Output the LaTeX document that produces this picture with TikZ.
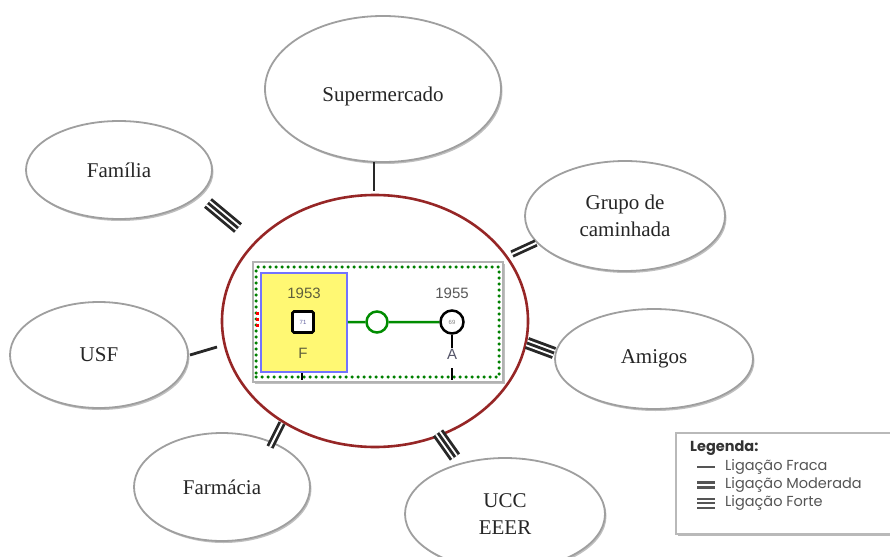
\documentclass[tikz,border=0pt]{standalone}
\usepackage{fontspec}
\setmainfont{Liberation Serif}
\newfontfamily\legfont{Poppins}
\newfontfamily\genfont{Liberation Sans}
\usepackage{tikz}
\usetikzlibrary{shapes.geometric}
\usetikzlibrary{shadows}
\definecolor{ligcolor}{RGB}{40,40,40}
\definecolor{gencolor}{RGB}{95,95,60}
\definecolor{legcolor}{RGB}{85,85,85}
\definecolor{hubcolor}{RGB}{150,38,38}
\definecolor{sexocolor}{RGB}{85,85,105}
\tikzstyle{place}=[ellipse, draw=gray!75, line width=1.8pt, fill=white, inner sep=0, align=center,
                   font=\fontsize{21}{27}\selectfont, text=black!85,
                   drop shadow={shadow xshift=1.5pt, shadow yshift=-2pt, opacity=0.5}]
\tikzstyle{hub}=[ellipse, draw=hubcolor, line width=2.6pt, fill=white, inner sep=0]
\tikzstyle{fraca}=[draw=ligcolor, line width=2.8pt]
\tikzstyle{moderada}=[draw=ligcolor, line width=7.6pt, postaction={draw=white, line width=2pt}]
\tikzstyle{forte}=[draw=ligcolor, line width=12.4pt, postaction={draw=white, line width=6.6pt},
                   postaction={draw=ligcolor, line width=2.8pt}]
\tikzstyle{gentext}=[inner sep=0, font=\genfont\fontsize{15}{15}\selectfont]
\tikzstyle{legtext}=[anchor=west, inner sep=0, font=\legfont\fontsize{14.5}{16}\selectfont, text=legcolor]

\begin{document}
\begin{tikzpicture}[x=1pt, y=-1pt]
    \useasboundingbox (0,0) rectangle (890,556);
    % ecomapa
    \node[hub, minimum width=306pt, minimum height=252pt] (ego) at (375,321) {};
    \node[place, minimum width=236pt, minimum height=146pt, text height=30pt, text depth=4.5pt] (super) at (383,89) {Supermercado};
    \node[place, minimum width=186pt, minimum height=98pt] (familia) at (119,170) {Família};
    \node[place, minimum width=200pt, minimum height=110pt] (grupo) at (625,216) {Grupo de\\caminhada};
    \node[place, minimum width=198pt, minimum height=100pt] (amigos) at (654,359) {Amigos};
    \node[place, minimum width=178pt, minimum height=106pt] (usf) at (99,355) {USF};
    \node[place, minimum width=176pt, minimum height=108pt] (farmacia) at (222,487) {Farmácia};
    \node[place, minimum width=200pt, minimum height=112pt] (ucc) at (505,514) {UCC\\EEER};
    % pontas das ligacoes
    \coordinate (super a) at (374,162);
    \coordinate (super b) at (374,191);
    \coordinate (familia a) at (208,203);
    \coordinate (familia b) at (238,228);
    \coordinate (grupo a) at (512,254);
    \coordinate (grupo b) at (536,243);
    \coordinate (amigos a) at (527,343);
    \coordinate (amigos b) at (554,353);
    \coordinate (usf a) at (190,355);
    \coordinate (usf b) at (217,347);
    \coordinate (farmacia a) at (282,423);
    \coordinate (farmacia b) at (270,447);
    \coordinate (ucc a) at (438,433);
    \coordinate (ucc b) at (455,457);
    \draw[fraca] (super a) -- (super b);
    \draw[forte] (familia a) -- (familia b);
    \draw[moderada] (grupo a) -- (grupo b);
    \draw[forte] (amigos a) -- (amigos b);
    \draw[fraca] (usf a) -- (usf b);
    \draw[moderada] (farmacia a) -- (farmacia b);
    \draw[forte] (ucc a) -- (ucc b);
    % genograma
    \node[draw=gray!60, line width=2.2pt, fill=white, inner sep=0, minimum width=250pt, minimum height=120pt,
          drop shadow={shadow xshift=1.5pt, shadow yshift=-1.5pt, opacity=0.5}] (quadro) at (378,322) {};
    \node[draw=green!50!black, line width=3.5pt, line cap=round, dash pattern=on 0pt off 6pt,
          inner sep=0, minimum width=243pt, minimum height=110pt] (pontos) at (377.5,322) {};
    \draw[red, line width=2.4pt, dash pattern=on 3pt off 3pt] (257.5,312) -- (257.5,328);
    \node[draw=blue!55, fill=yellow!55, line width=1.8pt, inner sep=0, minimum width=86pt, minimum height=99pt] (pai) at (304,322.5) {};
    \node[draw, line width=2.6pt, rounded corners=1.5pt, fill=white, inner sep=0, minimum size=21pt,
          font=\genfont\fontsize{6}{6}\selectfont, text=blue!25!gray] (idade) at (303,322) {71};
    \node[gentext, text=gencolor] (ano1) at (304,293) {1953};
    \node[gentext, text=gencolor] (sexo1) at (303,353) {F};
    \node[circle, draw=green!55!black, line width=2.5pt, fill=white, inner sep=0, minimum size=21pt] (gest) at (377,322) {};
    \node[circle, draw, line width=2.5pt, fill=white, inner sep=0, minimum size=23pt,
          font=\genfont\fontsize{6}{6}\selectfont, text=gray] (filho) at (452,322) {69};
    \node[gentext, text=black!65] (ano2) at (452,293) {1955};
    \node[gentext, text=sexocolor] (sexo2) at (452,354) {A};
    \coordinate (baixo) at (452,380);
    \draw[green!55!black, line width=2.5pt] (pai) -- (gest) -- (filho);
    \draw[black, line width=2.2pt, shorten >=1pt] (filho) -- (sexo2);
    \draw[black, line width=2.5pt] (sexo2.south) ++(0,9) -- (baixo);
    \draw[black, line width=2pt] (302,373) -- (302,380);
    % legenda
    \node[draw=gray!55, line width=2pt, fill=white, inner sep=0, minimum width=222pt, minimum height=101pt, anchor=north west,
          drop shadow={shadow xshift=1.5pt, shadow yshift=-2pt, opacity=0.55}] (legenda) at (675,432) {};
    \node[legtext, text=black!80, font=\legfont\bfseries\fontsize{14.5}{16}\selectfont] (titulo) at (690,448) {Legenda:};
    \node[legtext] (l1) at (725,467) {Ligação Fraca};
    \node[legtext] (l2) at (725,485) {Ligação Moderada};
    \node[legtext] (l3) at (725,503) {Ligação Forte};
    \draw[legcolor, line width=2.4pt] (697,467) -- (715,467);
    \draw[legcolor, line width=2.2pt] (697,482.5) -- (715,482.5) (697,487.5) -- (715,487.5);
    \draw[legcolor, line width=2pt] (697,498.5) -- (715,498.5) (697,503) -- (715,503) (697,507.5) -- (715,507.5);
\end{tikzpicture}
\end{document}
